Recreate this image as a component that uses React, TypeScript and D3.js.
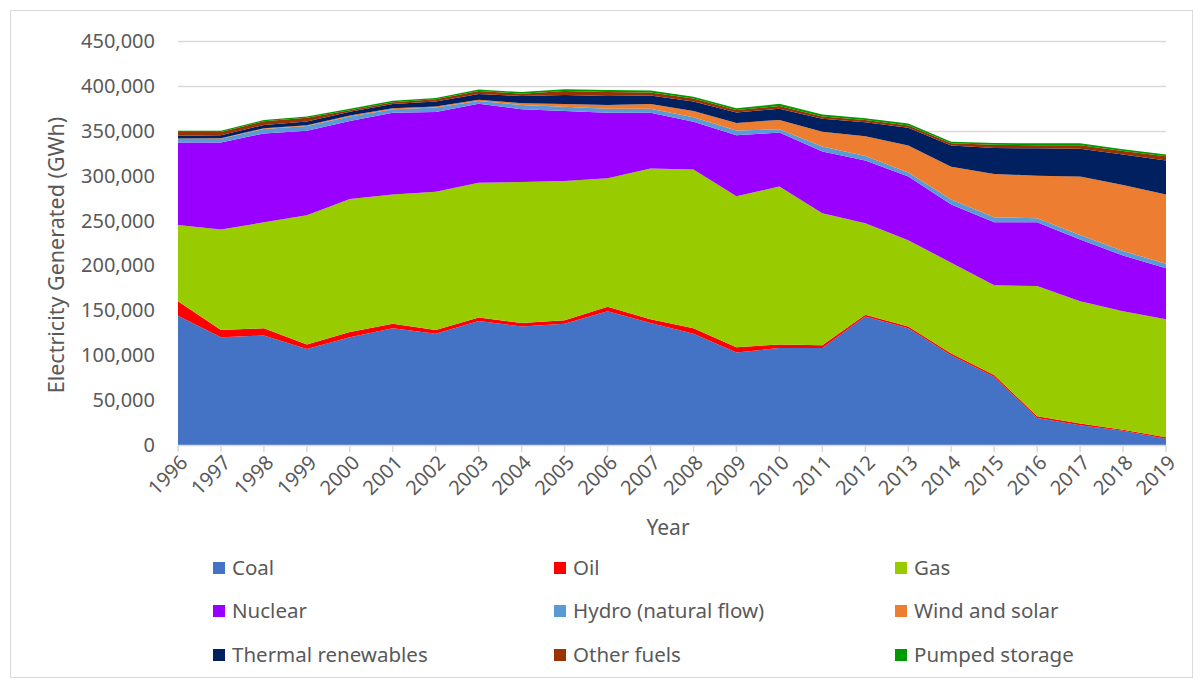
import React from "react";
import * as d3 from "d3";

const years = [1996,1997,1998,1999,2000,2001,2002,2003,2004,2005,2006,2007,2008,2009,2010,2011,2012,2013,2014,2015,2016,2017,2018,2019];

const coal = [144000,120000,122000,107000,120000,130000,124000,138000,132000,135000,149000,136000,124000,103000,108000,108000,143000,130000,100000,76000,30000,22000,16000,7000];
const oil = [16000,8000,8000,5000,6000,5000,4000,4000,4000,4000,5000,4000,6000,6000,4000,3000,2000,2000,2000,2000,2000,2000,1000,1500];
const gas = [85000,112000,118000,144000,148000,144000,154000,150000,157000,155000,143000,168000,177000,168000,176000,147000,102000,96000,101000,100000,145000,136000,132000,131500];
const nuclear = [92000,97000,99000,94000,87000,91000,89000,88000,81000,78000,73000,62000,53000,68000,60000,69000,70000,71000,65000,70000,71000,69000,62000,57000];
const hydro = [4000,4000,5000,5300,5000,4000,4800,3200,4800,4900,4600,4600,5000,5300,3600,5500,5000,4500,5500,5800,4500,5000,5000,5000];
const windSolar = [500,700,900,900,1000,1000,1300,1300,2000,2900,4200,5300,7000,8500,10500,16500,22000,30000,36500,48000,47500,65000,73500,77000];
const thermal = [3000,3300,3600,4000,4300,4800,5500,6500,8000,10000,10000,9500,10500,11500,12500,14500,15500,20000,23500,29000,30500,31000,34000,38000];
const otherFuels = [4000,3500,4000,4300,1700,2000,2500,3200,2500,4500,4500,3300,3500,2800,3000,2500,2500,2500,2500,3500,3500,4000,4000,4500];
const pumped = [1500,1500,1500,1500,1500,1700,1500,1800,1800,2000,2200,2300,2000,2000,2400,2000,2000,2000,1800,2000,2000,2000,2000,2000];

const seriesNames = ["Coal","Oil","Gas","Nuclear","Hydro (natural flow)","Wind and solar","Thermal renewables","Other fuels","Pumped storage"];
const seriesValues = [coal, oil, gas, nuclear, hydro, windSolar, thermal, otherFuels, pumped];
const seriesColors = ["#4472C4","#FF0000","#99CC00","#9900FF","#5B9BD5","#ED7D31","#002060","#993300","#009900"];
const yTicks = [0,50000,100000,150000,200000,250000,300000,350000,400000,450000];

const FONT = "'Noto Sans', 'Open Sans', sans-serif";
const TXT = "#595959";

export default function App() {
  const W = 1202, H = 686;
  const x = d3.scaleLinear().domain([1996, 2019]).range([178, 1166]);
  const y = d3.scaleLinear().domain([0, 450000]).range([445, 41]);

  const table = years.map((yr, i) => {
    const row: any = { year: yr };
    seriesNames.forEach((n, k) => { row[n] = seriesValues[k][i]; });
    return row;
  });
  const stack = d3.stack<any>().keys(seriesNames);
  const layers = stack(table);
  const area = d3.area<any>()
    .x((d) => x(d.data.year))
    .y0((d) => y(d[0]))
    .y1((d) => y(d[1]));

  const fmt = d3.format(",");
  const legendCols = [213, 554, 895];
  const legendRows = [568, 611, 655];

  return (
    <svg width={W} height={H} style={{ display: "block", position: "absolute", left: 0, top: 0 }} fontFamily={FONT}>
      <rect x={0} y={0} width={W} height={H} fill="#fff" />
      <rect x={10.5} y={10.5} width={1182} height={667} fill="none" stroke="#D9D9D9" strokeWidth={1} />
      {yTicks.map((t) => (
        <g key={t}>
          {t > 0 && <line x1={178} x2={1166} y1={Math.round(y(t)) + 0.5} y2={Math.round(y(t)) + 0.5} stroke="#D9D9D9" strokeWidth={1.5} />}
          <text x={155} y={y(t)} dy="0.35em" textAnchor="end" fontSize={20} fill={TXT}>{fmt(t)}</text>
        </g>
      ))}
      {layers.map((layer, k) => (
        <path key={k} d={area(layer) || ""} fill={seriesColors[k]} stroke="none" />
      ))}
      <line x1={178} x2={1166} y1={445.5} y2={445.5} stroke="#D9D9D9" strokeWidth={1.5} />
      {years.map((yr) => (
        <g key={yr}>
          <line x1={x(yr)} x2={x(yr)} y1={445} y2={452} stroke="#D9D9D9" strokeWidth={1.5} />
          <text transform={`translate(${x(yr) + 6},${459}) rotate(-45)`} textAnchor="end" dy="0.35em" fontSize={20} fill={TXT}>{yr}</text>
        </g>
      ))}
      <text x={668} y={535} textAnchor="middle" fontSize={21} fill={TXT}>Year</text>
      <text transform={`translate(56,255) rotate(-90)`} textAnchor="middle" dy="0.35em" fontSize={21.5} fill={TXT}>Electricity Generated (GWh)</text>
      {seriesNames.map((n, k) => {
        const cx = legendCols[k % 3];
        const cy = legendRows[Math.floor(k / 3)];
        return (
          <g key={n}>
            <rect x={cx} y={cy - 6} width={12} height={12} fill={seriesColors[k]} />
            <text x={cx + 19} y={cy} dy="0.35em" fontSize={20.5} fill={TXT}>{n}</text>
          </g>
        );
      })}
    </svg>
  );
}
